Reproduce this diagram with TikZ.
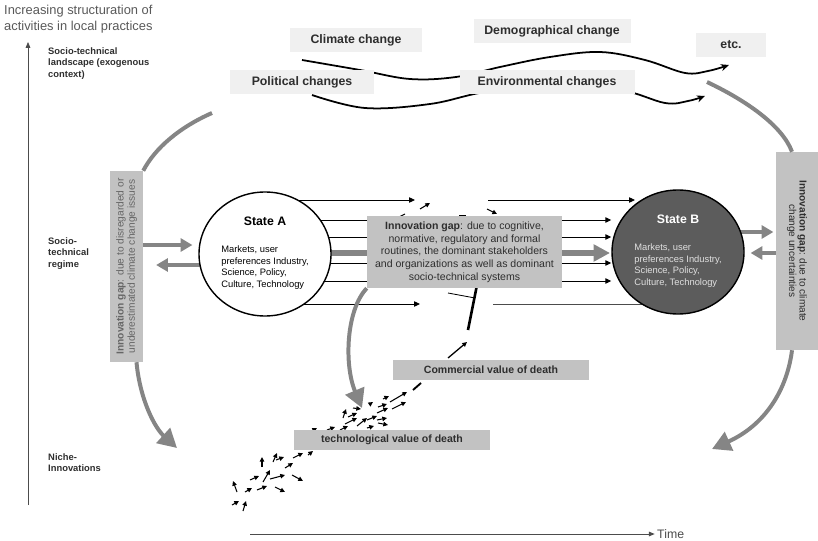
\documentclass[tikz,border=0pt]{standalone}
\usepackage{fontspec}
\setmainfont{Liberation Sans}
\usetikzlibrary{arrows.meta,positioning,shapes.geometric,calc}
\pgfdeclarelayer{background}
\pgfsetlayers{background,main}

\definecolor{lightbox}{gray}{0.94}
\definecolor{gapfill}{gray}{0.76}
\definecolor{fatgray}{gray}{0.52}
\definecolor{darkstate}{gray}{0.36}
\definecolor{inktext}{gray}{0.18}

\begin{document}
\begin{tikzpicture}[x=0.03cm, y=-0.03cm,
  trend/.style={fill=lightbox, inner sep=0pt, minimum height=0.7cm,
    font=\fontsize{10.5}{12}\selectfont\bfseries, text=inktext},
  gapbox/.style={fill=gapfill, inner sep=0pt, align=center, text=inktext,
    font=\fontsize{9}{10.8}\selectfont},
  valuebox/.style={fill=gapfill, inner sep=0pt, minimum width=5.88cm,
    minimum height=0.6cm, font=\fontsize{9}{11}\selectfont\bfseries, text=inktext},
  statecirc/.style={ellipse, draw=black, line width=1.2pt, inner sep=0pt,
    minimum width=3.96cm, minimum height=3.72cm, font=\fontsize{8}{10}\selectfont},
  level/.style={anchor=north west, align=left, inner sep=0pt, text=inktext,
    font=\fontsize{8}{10}\selectfont\bfseries},
  flow/.style={line width=0.8pt, -{Triangle[length=5pt,width=4.5pt]}},
  fat/.style={draw=fatgray, fill=fatgray, line width=3.4pt, -{Triangle[length=10pt,width=11pt]}},
  bigfat/.style={draw=fatgray, line width=3.4pt, -{Triangle[length=16pt,width=17pt]}},
  wave/.style={line width=1.5pt, -{Stealth[length=7pt,width=6pt]}},
  niche/.style={line width=0.9pt, -{Triangle[length=4pt,width=3.8pt]}},
  axisline/.style={draw=black!70, line width=0.7pt, -{Triangle[length=5pt,width=4pt]}}]

\useasboundingbox (0,0) rectangle (818,541);

% axes
\node[anchor=north west, align=left, inner sep=0pt, text=black!65,
  font=\fontsize{11}{13.5}\selectfont] (axislbl) at (4,5)
  {Increasing structuration of\\activities in local practices};
\coordinate (corner) at (28,505);
\draw[axisline] (corner) -- (28,42);
\node[anchor=west, inner sep=0pt, font=\fontsize{10.5}{12}\selectfont, text=black!70]
  (time) at (657,534) {Time};
\draw[axisline, shorten >=2pt] (250,534) -- (time.west);

% levels
\node[level] (landscape) at (48,47) {Socio-technical\\landscape (exogenous\\context)};
\node[level] (regime) at (48,237) {Socio-\\technical\\regime};
\node[level] (nicheinn) at (48,453) {Niche-\\Innovations};

% landscape pressures
\node[trend, minimum width=3.96cm] (climate) at (356,40) {Climate change};
\node[trend, minimum width=4.71cm] (demo) at (552,31) {Demographical change};
\node[trend, minimum width=2.1cm] (etc) at (731,45) {etc.};
\node[trend, minimum width=4.32cm] (political) at (302,82) {Political changes};
\node[trend, minimum width=5.25cm] (environ) at (547,82) {Environmental changes};

% regime states
\node[statecirc, fill=white] (stateA) at (265,254) {\begin{tabular}{@{}l@{}}
  \multicolumn{1}{@{}c@{}}{\fontsize{10.5}{12}\selectfont\bfseries State A}\\[13pt]
  Markets, user\\ preferences Industry,\\ Science, Policy,\\ Culture, Technology
  \end{tabular}};
\node[statecirc, fill=darkstate, text=black!12] (stateB) at (678,252) {\begin{tabular}{@{}l@{}}
  \multicolumn{1}{@{}c@{}}{\fontsize{10.5}{12}\selectfont\bfseries\color{white} State B}\\[13pt]
  Markets, user\\ preferences Industry,\\ Science, Policy,\\ Culture, Technology
  \end{tabular}};

% innovation gaps
\node[gapbox, rotate=90, minimum width=5.73cm, minimum height=0.99cm, text=black!60,
  font=\fontsize{8.7}{9.6}\selectfont] (gapA) at (126.5,266.5)
  {\textbf{Innovation gap}: due to disregarded or\\underestimated climate change issues};
\node[gapbox, minimum width=5.85cm, minimum height=2.16cm] (gapM) at (464.5,252)
  {\textbf{Innovation gap}: due to cognitive,\\normative, regulatory and formal\\
   routines, the dominant stakeholders\\and organizations as well as dominant\\
   socio-technical systems};
\node[gapbox, rotate=-90, minimum width=5.94cm, minimum height=1.26cm,
  font=\fontsize{8.6}{9}\selectfont] (gapB) at (797,251)
  {\textbf{Innovation gap}: due to climate\\change uncertainties};

% valleys of death
\node[valuebox] (commercial) at (491,370) {Commercial value of death};
\node[valuebox] (techval) at (392,440) {technological value of death};

\begin{pgfonlayer}{background}
  % landscape developments
  \draw[wave] plot[smooth, tension=0.6] coordinates {(302,60) (360,70) (410,79)
    (456,77) (500,67) (550,57) (600,52) (645,60) (685,73) (708,71) (729,65)};
  \draw[wave] plot[smooth, tension=0.6] coordinates {(312,95) (365,108) (430,104)
    (485,92) (550,86) (620,90) (665,103) (688,101) (705,96)};
  % trajectories from A to B
  \foreach \y in {220,237,263,281}
    \draw[flow] (stateA.center |- 0,\y) -- (stateB.west |- 0,\y);
  \draw[flow] (stateA.center |- 0,200) -- (415,200);
  \draw[flow] (488,200) -- (635,200);
  \draw[flow] (stateA.center |- 0,304) -- (420,304);
  \draw[line width=0.8pt, black!70] (493,304) -- (stateB.center |- 0,304);
  \draw[draw=fatgray, line width=4.4pt, -{Triangle[length=14pt,width=14pt]}]
    (stateA.center |- 0,253) -- (610,253);
  \draw[fat] (stateA.center |- 0,265) -- (gapA.south |- 0,265) [shorten >=11pt];
  \draw[fat, shorten >=2pt] (stateB.center |- 0,232) -- (gapB.south |- 0,232);
  % loose ends round the gap
  \draw[niche] (420,209) -- (430,203);
  \draw[niche] (487,209) -- (497,214);
  \draw[line width=0.9pt] (399,217) -- (405,214);
  \draw[line width=0.9pt] (459,216) -- (466,216);
  \draw[line width=0.7pt] (448,293) -- (475,298);
  \draw[line width=2.2pt] (468,330) -- (477,285);
  \draw[niche, line width=1.1pt] (448,358) -- (467,342);
  \draw[line width=1.6pt] (413,390) -- (421,383);
  % niche swarm
  \foreach \xa/\ya/\xb/\yb in {237/492/233/481, 232/505/239/501, 243/511/246/501,
      245/492/252/488, 257/490/267/486, 275/487/285/492, 250/480/259/476,
      263/482/270/470, 270/479/285/475, 292/475/303/481, 285/468/293/463,
      262/467/262/457, 273/462/277/453, 276/460/284/457, 293/458/303/453,
      308/455/313/451, 310/432/317/428, 327/430/335/427, 340/430/348/426,
      343/418/346/409, 348/417/357/413, 345/424/357/418, 357/426/367/418,
      367/420/377/416, 367/428/374/426, 353/408/361/409, 370/404/373/402,
      378/407/387/404, 377/413/388/408, 377/420/387/418, 378/423/388/425,
      383/399/389/396, 390/402/407/392, 392/409/406/402}
    \draw[niche] (\xa,\ya) -- (\xb,\yb);
\end{pgfonlayer}

% pressures on the regime
\draw[fat, shorten >=5pt] (gapA.south |- 0,245) -- (stateA.west |- 0,245);
\draw[fat, shorten >=5pt] (gapB.south |- 0,253) -- (stateB.east |- 0,253);
\draw[draw=fatgray, line width=3.4pt] (212,113) .. controls (180,127) and (155,148)
  .. (gapA.south east);
\draw[bigfat] ($(gapA.west)+(10,0)$) .. controls (140,400) and (155,428) .. (177,448);
\draw[draw=fatgray, line width=3.4pt] (707,82) .. controls (745,100) and (782,125)
  .. ($(gapB.west)+(-5,0)$);
\draw[bigfat] ($(gapB.east)+(-5,0)$) .. controls (787,390) and (765,425) .. (712,449);
\draw[bigfat] (gapM.south west) .. controls (346,310) and (344,365) .. (362,408);
\end{tikzpicture}
\end{document}
